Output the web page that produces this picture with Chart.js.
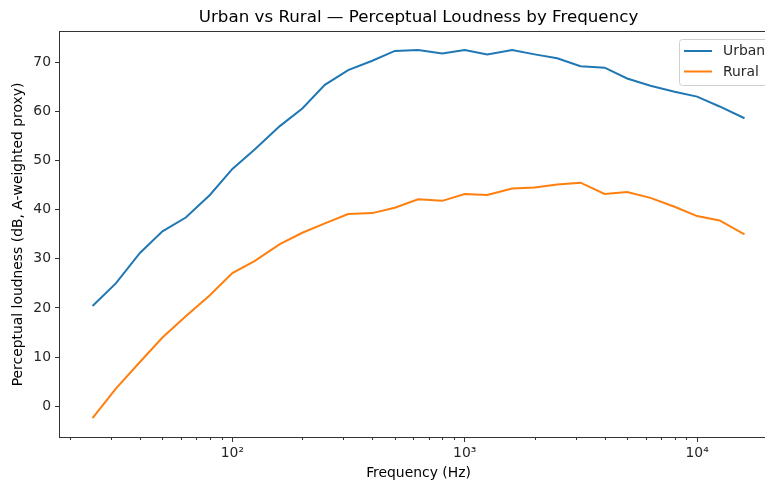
<!DOCTYPE html>
<html lang="en">
<head>
  <meta charset="UTF-8" />
  <title>Urban vs Rural - Perceptual Loudness</title>
  <script src="https://cdn.jsdelivr.net/npm/chart.js@4.4.1/dist/chart.umd.min.js"></script>
  <style>
    * { box-sizing: border-box; }
    html, body { margin: 0; padding: 0; background: #ffffff; overflow: hidden; }
    #wrap { width: 800px; height: 483px; }
  </style>
</head>
<body>
  <div id="wrap"><canvas id="loudChart" width="800" height="483"></canvas></div>

  <script>
    // 1/3-octave band centre frequencies (Hz)
    const freqs = [25, 31.5, 40, 50, 63, 80, 100, 125, 160, 200, 250, 315, 400, 500, 630,
                   800, 1000, 1250, 1600, 2000, 2500, 3150, 4000, 5000, 6300, 8000, 10000, 12500, 16000];
    const urban = [20.4, 25.0, 31.2, 35.6, 38.4, 43.0, 48.3, 52.3, 57.0, 60.6, 65.4, 68.4, 70.3, 72.3, 72.5,
                   71.8, 72.5, 71.6, 72.5, 71.6, 70.8, 69.2, 68.9, 66.7, 65.2, 64.0, 63.0, 61.0, 58.6];
    const rural = [-2.4, 3.6, 9.0, 14.0, 18.3, 22.6, 27.1, 29.6, 33.0, 35.3, 37.2, 39.1, 39.3, 40.4, 42.1,
                   41.8, 43.2, 43.0, 44.3, 44.5, 45.1, 45.5, 43.2, 43.6, 42.4, 40.6, 38.7, 37.8, 35.0];
    const yTicks = [0, 10, 20, 30, 40, 50, 60, 70];
    const xMajor = [100, 1000, 10000];
    const xMinor = [20, 30, 40, 50, 60, 70, 80, 90, 200, 300, 400, 500, 600, 700, 800, 900,
                    2000, 3000, 4000, 5000, 6000, 7000, 8000, 9000, 20000];
    const supers = { 2: "\u00B2", 3: "\u00B3", 4: "\u2074" };

    const FONT = "'DejaVu Sans', sans-serif";
    const FS = 13.9;
    const INK = "#262626";

    // frame around the plot area (matplotlib style spines) + short minor ticks
    const framePlugin = {
      id: "frame",
      afterDatasetsDraw(chart) {
        const a = chart.chartArea, ctx = chart.ctx;
        ctx.save();
        ctx.strokeStyle = "#333333";
        ctx.lineWidth = 1;
        ctx.strokeRect(Math.round(a.left) - 0.5, Math.round(a.top) - 0.5,
                       Math.round(a.right - a.left) + 1, Math.round(a.bottom - a.top) + 1);
        const xs = chart.scales.x;
        ctx.beginPath();
        xMinor.forEach(v => {
          const px = Math.round(xs.getPixelForValue(v)) + 0.5;
          ctx.moveTo(px, Math.round(a.bottom));
          ctx.lineTo(px, Math.round(a.bottom) + 3);
        });
        ctx.stroke();
        ctx.restore();
      }
    };

    // title centred on the plot area + legend box in the upper right
    const labelsPlugin = {
      id: "labels",
      afterDraw(chart) {
        const a = chart.chartArea, ctx = chart.ctx;
        ctx.save();
        ctx.fillStyle = "#000";
        ctx.font = "16.7px " + FONT;
        ctx.textAlign = "center";
        ctx.textBaseline = "middle";
        ctx.fillText("Urban vs Rural \u2014 Perceptual Loudness by Frequency", (a.left + a.right) / 2, 18);

        // legend
        const bx = 679.5, by = 39.5, bw = 110, bh = 46;
        ctx.fillStyle = "rgba(255,255,255,0.8)";
        ctx.strokeStyle = "#d0d0d0";
        ctx.lineWidth = 1;
        ctx.beginPath();
        ctx.roundRect(bx, by, bw, bh, 3);
        ctx.fill();
        ctx.stroke();
        ctx.font = FS + "px " + FONT;
        ctx.textAlign = "left";
        chart.data.datasets.forEach((ds, i) => {
          const ry = 51 + i * 20.5;
          ctx.strokeStyle = ds.borderColor;
          ctx.lineWidth = 2;
          ctx.beginPath();
          ctx.moveTo(684, ry);
          ctx.lineTo(712, ry);
          ctx.stroke();
          ctx.fillStyle = INK;
          ctx.fillText(ds.label, 723, ry + 0.5);
        });
        ctx.restore();
      }
    };

    const ctx = document.getElementById("loudChart").getContext("2d");
    new Chart(ctx, {
      type: "line",
      data: {
        datasets: [
          {
            label: "Urban",
            data: freqs.map((f, i) => ({ x: f, y: urban[i] })),
            borderColor: "#1f77b4",
            borderWidth: 2,
            pointRadius: 0,
            tension: 0,
            fill: false
          },
          {
            label: "Rural",
            data: freqs.map((f, i) => ({ x: f, y: rural[i] })),
            borderColor: "#ff7f0e",
            borderWidth: 2,
            pointRadius: 0,
            tension: 0,
            fill: false
          }
        ]
      },
      options: {
        responsive: false,
        animation: false,
        events: [],
        layout: { padding: { top: 32, left: 0, right: 23, bottom: 0 } },
        plugins: {
          legend: { display: false },
          title: { display: false },
          tooltip: { enabled: false }
        },
        scales: {
          x: {
            type: "logarithmic",
            min: Math.pow(10, 1.258),
            max: Math.pow(10, 4.344),
            afterBuildTicks(scale) {
              scale.ticks = xMajor.map(v => ({ value: v, major: true }));
            },
            afterFit(scale) { scale.height = 46; },
            grid: { drawOnChartArea: false, tickLength: 5, tickColor: "#333", tickWidth: 1 },
            border: { display: false },
            ticks: {
              autoSkip: false,
              maxRotation: 0,
              padding: 3,
              color: INK,
              font: { family: FONT, size: FS },
              callback(value) {
                return "10" + supers[Math.round(Math.log10(value))];
              }
            },
            title: {
              display: true,
              text: "Frequency (Hz)",
              color: "#000",
              font: { family: FONT, size: FS },
              padding: { top: 0, bottom: 1.5 }
            }
          },
          y: {
            min: -6.25,
            max: 76.15,
            afterBuildTicks(scale) {
              scale.ticks = yTicks.map(v => ({ value: v }));
            },
            afterFit(scale) { scale.width = 60; },
            grid: { drawOnChartArea: false, tickLength: 5, tickColor: "#333", tickWidth: 1 },
            border: { display: false },
            ticks: {
              padding: 4,
              color: INK,
              font: { family: FONT, size: FS }
            },
            title: {
              display: true,
              text: "Perceptual loudness (dB, A-weighted proxy)",
              color: "#000",
              font: { family: FONT, size: FS },
              padding: { top: 10, bottom: 0 }
            }
          }
        }
      },
      plugins: [framePlugin, labelsPlugin]
    });
  </script>
</body>
</html>
